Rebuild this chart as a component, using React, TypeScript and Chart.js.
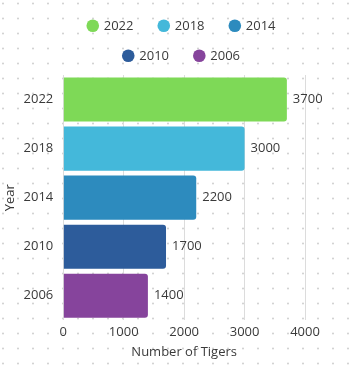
import React, { useEffect, useRef } from "react";
import { Chart, registerables } from "chart.js";

Chart.register(...registerables);

const years = ["2022", "2018", "2014", "2010", "2006"];
const tigers = [3700, 3000, 2200, 1700, 1400];
const barColors = ["#7ED957", "#44B8DA", "#2D8BBE", "#2D5C9B", "#86449C"];
const xMax = 4000;
const xStep = 1000;

const FONT = "'Open Sans', sans-serif";
const TEXT = "#3a3a3a";

const dotsPlugin = {
  id: "dots",
  beforeDraw(chart: any) {
    const { ctx, width, height } = chart;
    ctx.save();
    ctx.fillStyle = "#cfcfcf";
    for (let x = 3; x < width; x += 15) {
      for (let y = 3.5; y < height; y += 15) {
        ctx.beginPath();
        ctx.arc(x, y, 1, 0, Math.PI * 2);
        ctx.fill();
      }
    }
    ctx.restore();
  },
};

const valueLabels = {
  id: "valueLabels",
  afterDatasetsDraw(chart: any) {
    const { ctx } = chart;
    ctx.save();
    ctx.font = `13px ${FONT}`;
    ctx.fillStyle = TEXT;
    ctx.textAlign = "left";
    ctx.textBaseline = "middle";
    chart.data.datasets.forEach((ds: any, i: number) => {
      const meta = chart.getDatasetMeta(i);
      meta.data.forEach((el: any, j: number) => {
        const v = ds.data[j];
        if (v == null) return;
        ctx.fillText(String(v), el.x + 6, el.y);
      });
    });
    ctx.restore();
  },
};

const legendPlugin = {
  id: "customLegend",
  afterDraw(chart: any) {
    const { ctx, width } = chart;
    const r = 6.3;
    const textGap = 11;
    const spacing = 24;
    const maxRow = 250;
    ctx.save();
    ctx.font = `13px ${FONT}`;
    const items = chart.data.datasets.map((ds: any) => {
      const w = ctx.measureText(ds.label).width;
      return { label: ds.label, color: ds.backgroundColor, w: r + textGap + w };
    });
    const rows: any[][] = [[]];
    let cur = 0;
    items.forEach((it: any) => {
      const add = (rows[rows.length - 1].length ? spacing : 0) + it.w;
      if (rows[rows.length - 1].length && cur + add > maxRow) {
        rows.push([it]);
        cur = it.w;
      } else {
        rows[rows.length - 1].push(it);
        cur += add;
      }
    });
    const cx = width / 2 + 4;
    rows.forEach((row, ri) => {
      const total = row.reduce((s: number, it: any, k: number) => s + it.w + (k ? spacing : 0), 0);
      let x = cx - total / 2;
      const y = 25.8 + ri * 30;
      row.forEach((it: any) => {
        ctx.beginPath();
        ctx.fillStyle = it.color;
        ctx.arc(x + r, y, r, 0, Math.PI * 2);
        ctx.fill();
        ctx.fillStyle = TEXT;
        ctx.textAlign = "left";
        ctx.textBaseline = "middle";
        ctx.fillText(it.label, x + r + textGap, y);
        x += it.w + spacing;
      });
    });
    ctx.restore();
  },
};

export default function App() {
  const ref = useRef<HTMLCanvasElement>(null);
  useEffect(() => {
    document.body.style.margin = "0";
    const datasets = years.map((y, i) => ({
      label: y,
      data: years.map((_, j) => (j === i ? tigers[i] : null)),
      backgroundColor: barColors[i],
      borderRadius: 3,
      borderSkipped: "start" as const,
      barPercentage: 0.9,
      categoryPercentage: 1,
    }));
    const chart = new Chart(ref.current as HTMLCanvasElement, {
      type: "bar",
      data: { labels: years, datasets },
      options: {
        indexAxis: "y",
        animation: false,
        responsive: false,
        maintainAspectRatio: false,
        layout: { padding: { top: 75, right: 49, bottom: 7.5, left: 0 } },
        plugins: {
          legend: { display: false },
          tooltip: { enabled: false },
        },
        scales: {
          x: {
            stacked: true,
            min: 0,
            max: xMax,
            ticks: {
              stepSize: xStep,
              padding: 4.5,
              color: TEXT,
              font: { family: FONT, size: 13 },
              callback: (v: any) => String(v),
            },
            grid: { color: "#dcdcdc", drawTicks: false },
            border: { display: false },
            title: {
              display: true,
              text: "Number of Tigers",
              color: TEXT,
              font: { family: FONT, size: 13 },
              padding: { top: 0, bottom: 4 },
            },
          },
          y: {
            stacked: true,
            afterFit: (scale: any) => {
              scale.width = 63.3;
            },
            ticks: { padding: 10, color: TEXT, font: { family: FONT, size: 13 } },
            grid: { display: false, drawTicks: false },
            border: { display: false },
            title: {
              display: true,
              text: "Year",
              color: TEXT,
              font: { family: FONT, size: 13 },
              padding: { top: 2, bottom: 4 },
            },
          },
        },
      },
      plugins: [dotsPlugin, valueLabels, legendPlugin],
    });
    return () => chart.destroy();
  }, []);
  return (
    <div style={{ position: "fixed", left: 0, top: 0, width: 354, height: 372, background: "#fff" }}>
      <canvas ref={ref} width={354} height={372} style={{ width: 354, height: 372 }} />
    </div>
  );
}
